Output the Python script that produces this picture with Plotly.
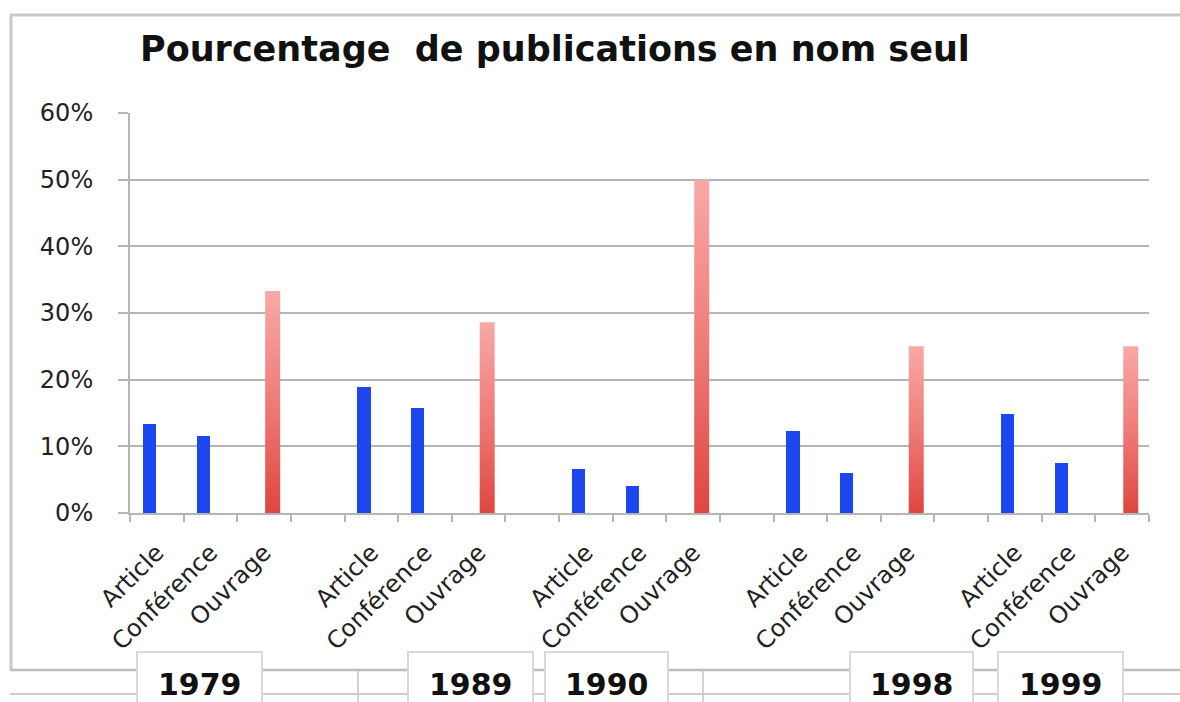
import plotly.graph_objects as go

# --- data -------------------------------------------------------------
years = ["1979", "1989", "1990", "1998", "1999"]
types = ["Article", "Conférence", "Ouvrage"]
article = [0.133, 0.189, 0.066, 0.123, 0.148]
conference = [0.115, 0.157, 0.041, 0.060, 0.075]
ouvrage = [0.333, 0.286, 0.500, 0.250, 0.250]
y_ticks = [0.0, 0.1, 0.2, 0.3, 0.4, 0.5, 0.6]

# --- page geometry (pixels) ------------------------------------------
W, H = 1180, 702
ML, MR, MT, MB = 130, 31, 113, 189
PW, PH = W - ML - MR, H - MT - MB

def px(x):
    return (x - ML) / PW

def py(y):
    return (H - MB - y) / PH

GRID = "#b5b5b5"
BLUE = "#1c46ee"
FONT = "DejaVu Sans"

# each year takes three slots, followed by one empty separator slot
slots_per_year = len(types) + 1
n_slots = slots_per_year * len(years) - 1
tick_text = []
for k in range(len(years)):
    tick_text += types
    if k < len(years) - 1:
        tick_text.append("")

blue_x, blue_y = [], []
for k in range(len(years)):
    base = slots_per_year * k
    blue_x += [base, base + 1]
    blue_y += [article[k], conference[k]]

fig = go.Figure()

fig.add_trace(go.Bar(
    x=blue_x, y=blue_y, width=0.25, offset=-0.26,
    marker=dict(color=BLUE, line=dict(width=0)),
    showlegend=False, hoverinfo="y",
))

# Ouvrage bars with a vertical red gradient, one filled shape per bar
for k, v in enumerate(ouvrage):
    c = slots_per_year * k + 2
    x0, x1 = c + 0.02, c + 0.30
    fig.add_trace(go.Scatter(
        x=[x0, x0, x1, x1, x0], y=[0, v, v, 0, 0],
        mode="lines", fill="toself", line=dict(width=0),
        fillgradient=dict(type="vertical", start=0, stop=v,
                          colorscale=[[0, "#df4640"], [0.5, "#ef7b77"], [1, "#f8a9a7"]]),
        showlegend=False, hoverinfo="skip",
    ))

shapes = []
line_c = "#c8c8c8"
# outer chart frame
shapes.append(dict(type="line", xref="paper", yref="paper", x0=px(10), x1=px(1180),
                   y0=py(15), y1=py(15), line=dict(color=line_c, width=3), layer="below"))
shapes.append(dict(type="line", xref="paper", yref="paper", x0=px(11), x1=px(11),
                   y0=py(15), y1=py(670), line=dict(color=line_c, width=3), layer="below"))
# spreadsheet cell lines under the chart
for yy, w in [(670, 2.5), (694, 1.5)]:
    shapes.append(dict(type="line", xref="paper", yref="paper", x0=px(10), x1=px(1180),
                       y0=py(yy), y1=py(yy), line=dict(color="#bdbdbd", width=w), layer="below"))
for xx in [358, 703]:
    shapes.append(dict(type="line", xref="paper", yref="paper", x0=px(xx), x1=px(xx),
                       y0=py(670), y1=py(702), line=dict(color="#c4c4c4", width=1.5), layer="below"))

# year label boxes
year_boxes = [(137, 262), (408, 533), (545, 668), (850, 973), (998, 1123)]
annotations = []
for (bx0, bx1), yr in zip(year_boxes, years):
    shapes.append(dict(type="rect", xref="paper", yref="paper", x0=px(bx0), x1=px(bx1),
                       y0=py(652), y1=py(712), fillcolor="white",
                       line=dict(color="#d9d9d9", width=2), layer="below"))
    annotations.append(dict(xref="paper", yref="paper", x=px((bx0 + bx1) / 2), y=py(684),
                            text=f"<b>{yr}</b>", showarrow=False, xanchor="center",
                            yanchor="middle", font=dict(family=FONT, size=30, color="#111")))

fig.update_layout(
    width=W, height=H,
    margin=dict(l=ML, r=MR, t=MT, b=MB),
    paper_bgcolor="white", plot_bgcolor="white",
    title=dict(text="<b>Pourcentage  de publications en nom seul</b>",
               x=140 / W, xanchor="left", xref="container",
               y=1 - 49 / H, yanchor="middle", yref="container",
               font=dict(family=FONT, size=35, color="#111")),
    xaxis=dict(range=[-0.5, n_slots - 0.5], tickmode="array",
               tickvals=list(range(n_slots)), ticktext=tick_text,
               tickangle=-45, ticks="", showgrid=False, zeroline=False,
               showline=True, linecolor=GRID, linewidth=2,
               tickfont=dict(family=FONT, size=24, color="#222"),
               ticklabelstandoff=14,
               minor=dict(ticks="outside", tickmode="array",
                          tickvals=[i - 0.5 for i in range(n_slots + 1)],
                          ticklen=7, tickwidth=1.5, tickcolor=GRID, showgrid=False)),
    yaxis=dict(range=[0, 0.6], tickmode="array", tickvals=y_ticks, tickformat=".0%",
               showgrid=True, gridcolor=GRID, gridwidth=2, zeroline=False,
               showline=True, linecolor=GRID, linewidth=2,
               ticks="outside", ticklen=10, tickwidth=2, tickcolor=GRID,
               ticklabelstandoff=20,
               tickfont=dict(family=FONT, size=24, color="#222")),
    shapes=shapes,
    annotations=annotations,
    bargap=0,
)

fig.write_html("out.html")
